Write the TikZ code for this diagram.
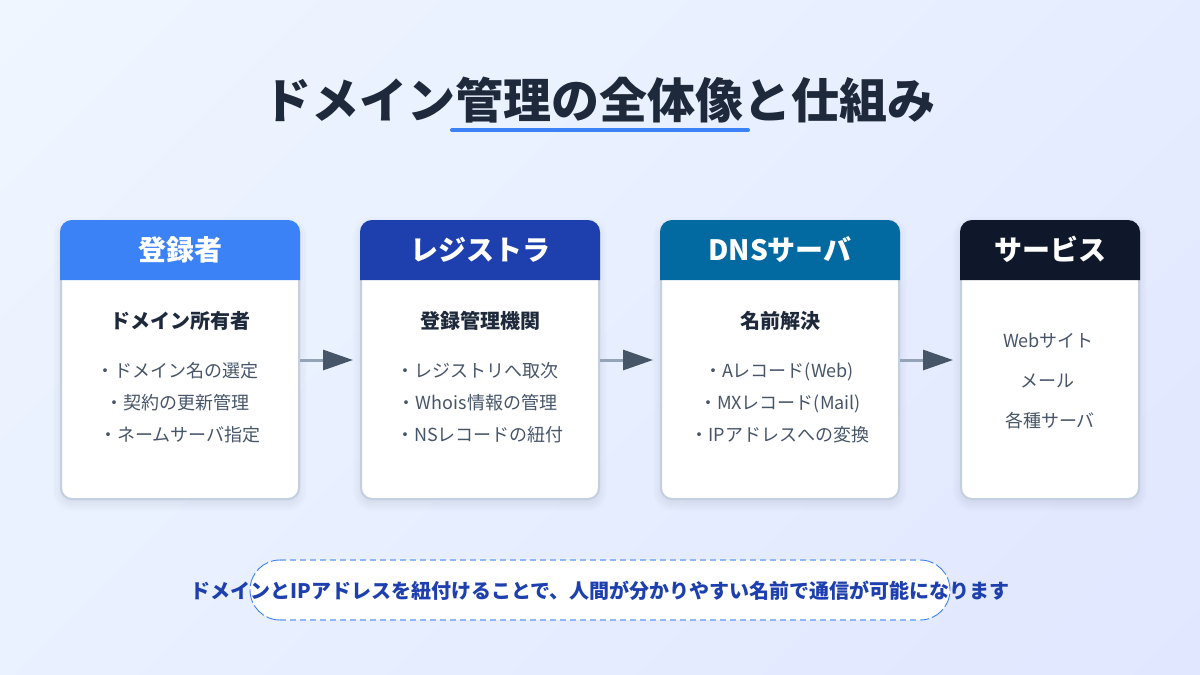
\documentclass[tikz,border=0pt]{standalone}
\usepackage{fontspec}
\setmainfont{Noto Sans CJK JP}
\usetikzlibrary{arrows.meta,calc}
\definecolor{bgA}{HTML}{EFF6FF}
\definecolor{bgB}{HTML}{E0E7FF}
\definecolor{cBlue}{HTML}{3B82F6}
\definecolor{cNavy}{HTML}{1E40AF}
\definecolor{cSea}{HTML}{0369A1}
\definecolor{cInk}{HTML}{0F172A}
\definecolor{cTitle}{HTML}{1E293B}
\definecolor{cBody}{HTML}{475569}
\definecolor{cLine}{HTML}{94A3B8}
\definecolor{cEdge}{HTML}{C4CFDF}
\definecolor{cDashSoft}{HTML}{90B8F9}
\tikzset{
  x=1pt,y=-1pt,
  cardbox/.style={minimum height=280pt,inner sep=0pt,outer sep=0pt},
  headtext/.style={text=white,font=\fontsize{28}{28}\selectfont\bfseries,anchor=base,inner sep=0pt},
  subtext/.style={text=cTitle,font=\fontsize{20}{20}\selectfont\bfseries,anchor=base,inner sep=0pt},
  bodytext/.style={text=cBody,font=\fontsize{18}{18}\selectfont,anchor=base,inner sep=0pt},
  flow/.style={draw=cLine,line width=3pt,-{Triangle[length=30pt,width=20pt,color=cBody,fill=cBody]}},
  pillstraight/.style={draw=cDashSoft,line width=2pt,dash pattern=on 6pt off 4pt},
  pillcurve/.style={draw=cBlue,line width=0.9pt,dash pattern=on 14pt off 3pt},
}
\newcommand{\cardshadow}[1]{%
  \foreach \g in {-3,-1,1,3,5,7}{%
    \fill[black,opacity=0.012,rounded corners={12pt+\g pt}] ($(#1.south west)+(-\g,4+\g)$) rectangle ($(#1.north east)+(\g,4-\g)$);
  }}
\newcommand{\cardface}[2]{%
  \draw[cEdge,line width=2pt,fill=white,rounded corners=11pt] ($(#1.north west)+(1,1)$) rectangle ($(#1.south east)+(-1,-1)$);
  \fill[#2] ($(#1.north west)+(0,60)$) [rounded corners=12pt] -- (#1.north west) -- (#1.north east) [sharp corners] -- ($(#1.north east)+(0,60)$) -- cycle;}
\begin{document}
\begin{tikzpicture}
\useasboundingbox (0,0) rectangle (1200,675);
\begin{scope}
  \clip (0,0) rectangle (1200,675);
  \shade[top color=bgA,bottom color=bgB,shading angle=45] (600-663,337.5-663) rectangle (600+663,337.5+663);
\end{scope}

\node[anchor=base,inner sep=0pt,text=cTitle,font=\fontsize{48}{48}\selectfont\bfseries] (title) at (599.5,118) {ドメイン管理の全体像と仕組み};
\coordinate (ulA) at (452,130);
\coordinate (ulB) at (748,130);
\draw[cBlue,line width=4pt,line cap=round] (ulA) -- (ulB);

\node[cardbox,minimum width=240pt] (a) at (180,360) {};
\node[cardbox,minimum width=240pt] (b) at (480,360) {};
\node[cardbox,minimum width=240pt] (c) at (780,360) {};
\node[cardbox,minimum width=180pt] (d) at (1050,360) {};
\cardshadow{a}\cardshadow{b}\cardshadow{c}\cardshadow{d}
\cardface{a}{cBlue}\cardface{b}{cNavy}\cardface{c}{cSea}\cardface{d}{cInk}

\node[headtext] (ah) at (180,260) {登録者};
\node[headtext] (bh) at (480,260) {レジストラ};
\node[headtext] (ch) at (780,260) {DNSサーバ};
\node[headtext] (dh) at (1050,260) {サービス};

\node[subtext] (as) at (180,328) {ドメイン所有者};
\node[subtext] (bs) at (480,328) {登録管理機関};
\node[subtext] (cs) at (780,328) {名前解決};

\node[bodytext] (a1) at (177.5,377) {・ドメイン名の選定};
\node[bodytext] (a2) at (177,409) {・契約の更新管理};
\node[bodytext] (a3) at (180,441) {・ネームサーバ指定};
\node[bodytext] (b1) at (477.5,377) {・レジストリへ取次};
\node[bodytext] (b2) at (477.5,409) {・Whois情報の管理};
\node[bodytext] (b3) at (480,441) {・NSレコードの紐付};
\node[bodytext] (c1) at (779,377) {・Aレコード(Web)};
\node[bodytext] (c2) at (780,409) {・MXレコード(Mail)};
\node[bodytext] (c3) at (780,441) {・IPアドレスへの変換};
\node[bodytext] (d1) at (1048.5,347) {Webサイト};
\node[bodytext] (d2) at (1047.5,387) {メール};
\node[bodytext] (d3) at (1050,427) {各種サーバ};

\draw[flow] (a.east) -- ($(b.west)+(-7,0)$);
\draw[flow] (b.east) -- ($(c.west)+(-7,0)$);
\draw[flow] (c.east) -- ($(d.west)+(-7,0)$);

\node[fill=white,rounded corners=30pt,minimum width=700pt,minimum height=60pt,inner sep=0pt,outer sep=0pt] (pill) at (600,590) {};
\draw[pillstraight] ($(pill.north west)+(30,0)$) -- ($(pill.north east)+(-30,0)$);
\draw[pillstraight] ($(pill.south west)+(30,0)$) -- ($(pill.south east)+(-30,0)$);
\draw[pillcurve] ($(pill.north east)+(-30,0)$) arc[start angle=-90,end angle=90,radius=30];
\draw[pillcurve] ($(pill.south west)+(30,0)$) arc[start angle=90,end angle=270,radius=30];
\node[anchor=base,inner sep=0pt,text=cNavy,font=\fontsize{20}{20}\selectfont\bfseries] (note) at (600,598) {ドメインとIPアドレスを紐付けることで、人間が分かりやすい名前で通信が可能になります};
\end{tikzpicture}
\end{document}
